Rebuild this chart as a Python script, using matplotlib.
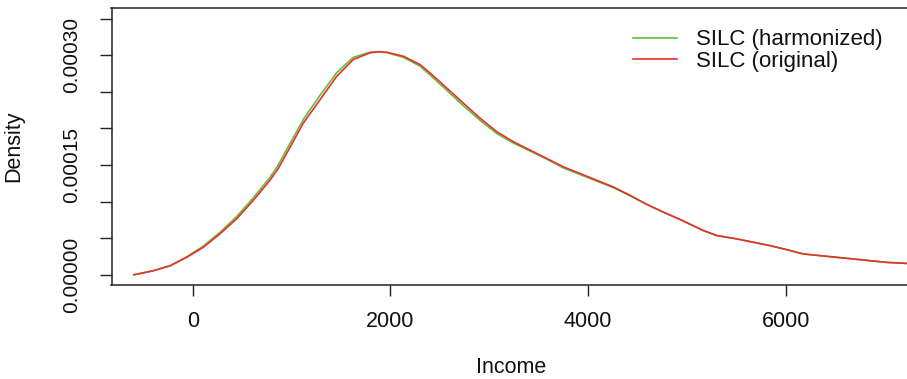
import matplotlib
matplotlib.use("Agg")
import matplotlib.pyplot as plt
import numpy as np

plt.rcParams['font.family'] = ['Liberation Sans', 'DejaVu Sans']

# Data (density values in units of 1e-5)
income = [-595, -400, -227, -62, 106, 275, 444, 612, 781, 865, 950, 1118, 1287,
          1456, 1624, 1794, 1880, 1962, 2131, 2300, 2401, 2570, 2738, 2907, 3076, 3244,
          3413, 3582, 3750, 3919, 4088, 4256, 4425, 4594, 4762, 4931, 5167, 5302,
          5505, 5673, 5842, 6011, 6179, 6348, 6517, 6685, 6854, 7023, 7225]
dens_original = [0.0, 0.55, 1.24, 2.38, 3.75, 5.59, 7.65, 10.16, 12.91, 14.52, 16.58,
                 20.70, 23.90, 27.10, 29.40, 30.32, 30.48, 30.40, 29.85, 28.71, 27.57, 25.51,
                 23.45, 21.39, 19.55, 18.17, 17.03, 15.89, 14.74, 13.83, 12.91, 11.99,
                 10.85, 9.62, 8.56, 7.55, 6.04, 5.36, 4.90, 4.44, 3.98, 3.43, 2.84,
                 2.61, 2.38, 2.16, 1.92, 1.69, 1.55]
dens_harmonized = [0.0, 0.55, 1.26, 2.45, 3.90, 5.80, 7.95, 10.50, 13.30, 15.00, 17.10,
                   21.20, 24.50, 27.60, 29.70, 30.40, 30.45, 30.35, 29.70, 28.50, 27.30, 25.20,
                   23.10, 21.10, 19.30, 18.00, 16.90, 15.80, 14.60, 13.70, 12.80, 11.90,
                   10.80, 9.60, 8.56, 7.55, 6.04, 5.36, 4.90, 4.44, 3.98, 3.43, 2.84,
                   2.61, 2.38, 2.16, 1.92, 1.69, 1.55]
labels = ["SILC (harmonized)", "SILC (original)"]
colors = ["#5cc040", "#e8302a"]

y_ticks = [0, 0.00005, 0.0001, 0.00015, 0.0002, 0.00025, 0.0003, 0.00035]
y_ticklabels = ["0.00000", "", "", "0.00015", "", "", "0.00030", ""]
x_ticks = [0, 2000, 4000, 6000]

W, H = 907, 379
fig = plt.figure(figsize=(W / 100, H / 100), dpi=100)
left, right, top, bottom = 111.5, 912, 8.3, 285
ax = fig.add_axes([left / W, 1 - bottom / H, (right - left) / W, (bottom - top) / H])

ax.plot(income, np.array(dens_harmonized) * 1e-5, color=colors[0], lw=1.2, label=labels[0])
ax.plot(income, np.array(dens_original) * 1e-5, color=colors[1], lw=1.2, label=labels[1])

ax.set_xlim(-823, 7279)
ax.set_ylim(-0.000014, 0.000364)

ax.set_xticks(x_ticks)
ax.set_xticklabels([str(v) for v in x_ticks])
ax.set_yticks(y_ticks)
ax.set_yticklabels(y_ticklabels)
for lab in ax.get_yticklabels():
    lab.set_rotation(90)
    lab.set_va('center')

ax.tick_params(axis='x', direction='out', length=8, width=1.0, pad=11, labelsize=15.5,
               color='#222222', labelcolor='#111111')
ax.tick_params(axis='y', direction='out', length=8.5, width=1.0, pad=13.5, labelsize=15,
               color='#222222', labelcolor='#111111')
for s in ax.spines.values():
    s.set_linewidth(1.1)
    s.set_color('#222222')

fig.text(14 / W, 1 - 146.7 / H, "Density", rotation=90, ha='center', va='center',
         fontsize=15.5, color='#111111')
fig.text(511 / W, 1.0 / H, "Income", ha='center', va='bottom',
         fontsize=15.5, color='#111111')

ax.legend(loc='upper left', bbox_to_anchor=(633 / W, 1 - 29.5 / H),
          bbox_transform=fig.transFigure, frameon=False, fontsize=16,
          handlelength=2.0, handletextpad=0.85, labelspacing=0.0,
          borderpad=0, borderaxespad=0, labelcolor='#111111')

fig.savefig("out.png", dpi=100)
